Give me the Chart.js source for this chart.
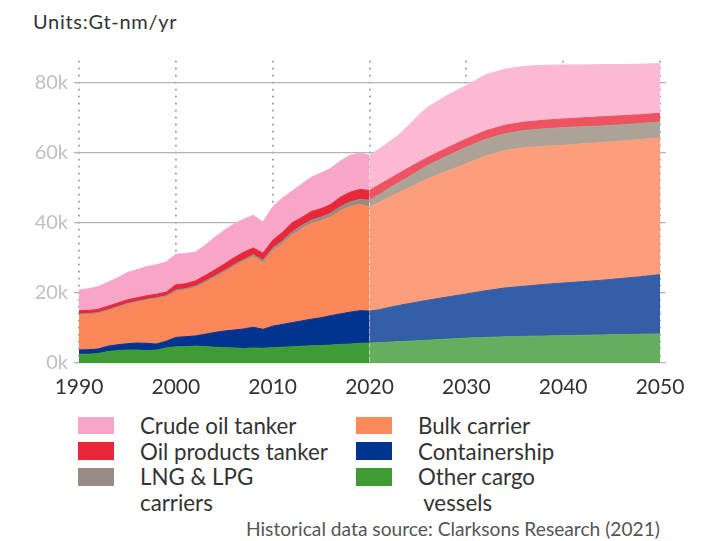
<!DOCTYPE html>
<html>
<head>
<meta charset="utf-8">
<script src="https://cdn.jsdelivr.net/npm/chart.js@4"></script>
<style>
  html, body { margin: 0; padding: 0; background: #fff; }
  body { width: 724px; height: 541px; position: relative; overflow: hidden; font-family: Lato, sans-serif; }
  #title { position: absolute; left: 33px; top: 8.5px; font-size: 20px; letter-spacing: 0.7px; line-height: 1.2; color: #333; white-space: nowrap; }
  #wrap { position: absolute; left: 0; top: 0; width: 724px; height: 400px; }
  .sw { position: absolute; width: 36px; height: 17.5px; }
  .lt { position: absolute; font-size: 22.3px; line-height: 25.5px; color: #333; white-space: pre; }
  #src { position: absolute; right: 64px; top: 517px; font-size: 19.2px; line-height: 1.2; color: #555; white-space: nowrap; }
</style>
</head>
<body>
<div id="title">Units:Gt-nm/yr</div>
<div id="wrap"><canvas id="c" width="724" height="400"></canvas></div>
<div id="legend"></div>
<div id="src">Historical data source: Clarksons Research (2021)</div>
<script>
// Years (historical 1990-2020, projection 2021-2050)
const years = [1990,1991,1992,1993,1994,1995,1996,1997,1998,1999,
               2000,2001,2002,2003,2004,2005,2006,2007,2008,2009,
               2010,2011,2012,2013,2014,2015,2016,2017,2018,2019,2020,
               2021,2022,2023,2024,2025,2026,2028,2030,2032,2034,2036,
               2038,2040,2042,2044,2046,2048,2050];
const projectionStart = 2020;

// Values in thousand Gt-nm/yr
const otherCargo = [2.5,2.5,2.7,3.3,3.5,3.7,3.7,3.5,3.7,4.3,
                    4.6,4.6,4.8,4.7,4.5,4.4,4.3,4.1,4.3,4.2,
                    4.4,4.5,4.6,4.8,4.9,5.0,5.1,5.3,5.4,5.6,5.7,
                    5.8,5.95,6.1,6.2,6.35,6.5,6.8,7.1,7.3,7.45,7.6,
                    7.7,7.8,7.9,8.0,8.1,8.2,8.3];
const containership = [1.2,1.3,1.3,1.5,1.7,1.8,2.0,2.1,1.7,1.9,
                       2.7,2.9,2.9,3.5,4.2,4.7,5.1,5.6,5.9,5.4,
                       6.1,6.5,6.9,7.2,7.6,7.9,8.4,8.7,9.1,9.3,9.1,
                       9.4,9.85,10.3,10.7,11.05,11.4,12.0,12.6,13.3,13.95,14.3,
                       14.7,15.0,15.3,15.6,16.0,16.4,16.9];
const bulkCarrier = [10.0,10.0,10.1,10.1,10.6,11.2,11.6,12.3,12.9,12.6,
                     13.1,13.3,13.8,14.6,15.6,16.7,18.1,19.3,20.1,19.0,
                     21.5,23.0,25.0,26.3,27.3,27.7,28.1,29.4,30.1,30.4,29.7,
                     30.6,31.4,32.1,32.9,33.8,34.6,35.9,37.1,38.4,39.2,39.5,
                     39.4,39.3,39.3,39.3,39.2,39.1,39.0];
const lngLpg = [0.3,0.3,0.3,0.3,0.3,0.3,0.3,0.3,0.3,0.4,
                0.4,0.4,0.4,0.5,0.5,0.5,0.5,0.5,0.6,0.7,
                0.8,0.8,0.9,0.9,0.9,1.0,1.1,1.2,1.3,1.4,1.9,
                2.2,2.6,2.9,3.2,3.5,3.8,4.3,4.7,4.8,4.8,4.9,
                5.0,5.0,4.9,4.7,4.6,4.6,4.5];
const oilProducts = [0.9,0.9,0.9,1.0,1.0,1.0,1.0,1.0,1.0,1.0,
                     1.5,1.4,1.5,1.6,1.7,1.9,2.0,2.1,1.9,2.0,
                     2.2,2.4,2.6,2.3,2.5,2.4,2.5,2.7,2.8,2.8,2.8,
                     2.8,2.6,2.6,2.6,2.4,2.3,2.3,2.4,2.4,2.4,2.4,
                     2.4,2.5,2.5,2.6,2.6,2.5,2.5];
const crudeOil = [5.9,6.2,6.5,6.8,7.2,7.8,8.0,8.3,8.4,8.6,
                  8.7,8.6,8.2,8.6,9.3,9.6,9.6,9.4,9.3,8.9,
                  9.5,9.8,9.0,9.5,9.8,10.2,10.3,10.3,10.5,10.4,10.0,
                  10.2,10.6,11.0,12.0,13.4,14.3,15.0,15.2,16.0,16.0,15.9,
                  15.7,15.4,15.1,14.9,14.6,14.4,14.2];

const xTicks = [1990, 2000, 2010, 2020, 2030, 2040, 2050];
const yTicks = [0, 20, 40, 60, 80];

const series = [
  { label: 'Other cargo vessels',  values: otherCargo,    hist: '#3e9b35', proj: '#66ae5d' },
  { label: 'Containership',        values: containership, hist: '#00348f', proj: '#335ea8' },
  { label: 'Bulk carrier',         values: bulkCarrier,   hist: '#fb875b', proj: '#fc9e7c' },
  { label: 'LNG & LPG carriers',   values: lngLpg,        hist: '#978c83', proj: '#aca398' },
  { label: 'Oil products tanker',  values: oilProducts,   hist: '#e8283a', proj: '#ed5361' },
  { label: 'Crude oil tanker',     values: crudeOil,      hist: '#f8a6c7', proj: '#fbb9d3' }
];

const pick = (s) => (ctx) => ctx.p0.parsed.x >= projectionStart ? s.proj : s.hist;

const datasets = series.map((s, i) => ({
  label: s.label,
  data: years.map((y, k) => ({ x: y, y: s.values[k] })),
  fill: i === 0 ? 'origin' : '-1',
  backgroundColor: s.hist,
  borderColor: s.hist,
  borderWidth: 1,
  pointRadius: 0,
  tension: 0,
  segment: { backgroundColor: pick(s), borderColor: pick(s) }
}));

new Chart(document.getElementById('c'), {
  type: 'line',
  data: { datasets },
  options: {
    responsive: false,
    animation: false,
    events: [],
    layout: { padding: { top: 60.7, right: 58.2, left: 0, bottom: 0 } },
    plugins: { legend: { display: false }, tooltip: { enabled: false } },
    scales: {
      x: {
        type: 'linear', min: 1990, max: 2050.6, z: 1,
        afterBuildTicks: (s) => { s.ticks = xTicks.map(v => ({ value: v })); },
        afterFit: (s) => { s.height = 37; },
        ticks: { color: '#333', font: { family: 'Lato', size: 21 }, padding: 12,
                 maxRotation: 0, autoSkip: false, callback: (v) => String(v) },
        grid: { color: '#9a9a9a', lineWidth: 1.8, drawTicks: false },
        border: { display: false, dash: [1.8, 5.2] }
      },
      y: {
        type: 'linear', stacked: true, min: 0, max: 86.2, z: 1,
        afterBuildTicks: (s) => { s.ticks = yTicks.map(v => ({ value: v })); },
        afterFit: (s) => { s.width = 79; },
        ticks: { color: '#c0c0c0', font: { family: 'Lato', size: 20 }, padding: 6,
                 callback: (v) => v + 'k' },
        grid: { color: '#b3b3b3', lineWidth: 1.3, drawTicks: true, tickLength: 5 },
        border: { display: false }
      }
    }
  }
});

// Legend (two columns, legend order as in the reference)
const legendItems = [
  { text: 'Crude oil tanker',        color: '#f8a6c7', col: 0, row: 0 },
  { text: 'Oil products tanker',     color: '#e8283a', col: 0, row: 1 },
  { text: 'LNG & LPG\ncarriers',     color: '#978c83', col: 0, row: 2 },
  { text: 'Bulk carrier',            color: '#fd8a5b', col: 1, row: 0 },
  { text: 'Containership',           color: '#00358f', col: 1, row: 1 },
  { text: 'Other cargo\n vessels',   color: '#3f9c35', col: 1, row: 2 }
];
const lg = document.getElementById('legend');
const swX = [78, 356], txX = [140, 418];
legendItems.forEach(it => {
  const sw = document.createElement('div');
  sw.className = 'sw';
  sw.style.left = swX[it.col] + 'px';
  sw.style.top = (416.7 + it.row * 25.7) + 'px';
  sw.style.background = it.color;
  lg.appendChild(sw);
  const t = document.createElement('div');
  t.className = 'lt';
  t.style.left = txX[it.col] + 'px';
  t.style.top = (413 + it.row * 25.5) + 'px';
  t.textContent = it.text;
  lg.appendChild(t);
});
</script>
</body>
</html>
